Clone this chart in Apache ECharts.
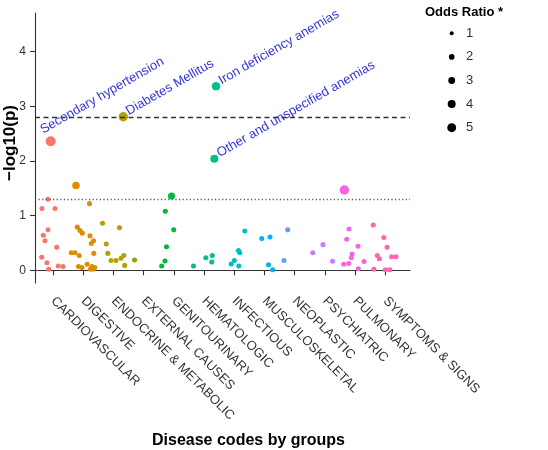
<!DOCTYPE html>
<html><head><meta charset="utf-8">
<script src="https://cdn.jsdelivr.net/npm/echarts@6/dist/echarts.min.js"></script>
<style>html,body{margin:0;padding:0;background:#fff}#c{width:548px;height:450px}</style>
</head><body><div id="c"></div>
<script>
// ---- DATA ----
const groups = ['CARDIOVASCULAR','DIGESTIVE','ENDOCRINE & METABOLIC','EXTERNAL CAUSES','GENITOURINARY','HEMATOLOGIC','INFECTIOUS','MUSCULOSKELETAL','NEOPLASTIC','PSYCHIATRIC','PULMONARY','SYMPTOMS & SIGNS'];
const groupColors = ['#F8766D','#DE8C00','#B79F00','#7CAE00','#00BA38','#00C08B','#00BFC4','#00B4F0','#619CFF','#C77CFF','#F564E3','#FF64B0'];
const groupTicks = [1,2,3,4,5,6,7,8,9,10,11,12];
const yTicks = [0,1,2,3,4];
const legendOR = [1,2,3,4,5];
const thresholdBonf = 2.8;   // dashed
const thresholdNominal = 1.301; // dotted (p = 0.05)
const OR0 = 1.6; // typical odds ratio of unlabelled points

// [position, -log10(p), odds ratio, phenotype]
const cardiovascular = [[0.834,1.30,OR0],[0.636,1.13,OR0],[1.066,1.13,OR0],[0.834,0.74,OR0],[0.679,0.64,OR0],[0.735,0.54,OR0],[1.123,0.42,OR0],[0.626,0.24,OR0],[0.80,0.14,OR0],[0.858,0.02,OR0],[1.175,0.08,OR0],[1.331,0.07,OR0],[0.924,2.36,6.2,'Secondary hypertension']];
const digestive = [[1.762,1.55,3.5],[2.209,1.22,OR0],[1.805,0.79,OR0],[1.894,0.73,OR0],[1.970,0.68,OR0],[2.225,0.63,OR0],[2.341,0.54,OR0],[2.268,0.49,OR0],[1.606,0.32,OR0],[1.728,0.32,OR0],[1.868,0.27,OR0],[2.351,0.31,OR0],[1.844,0.07,OR0],[1.960,0.05,OR0],[2.132,0.11,OR0],[2.235,0.02,OR0],[2.325,0.02,OR0],[2.381,0.05,OR0],[2.291,0.07,OR0]];
const endocrine = [[2.639,0.86,OR0],[3.202,0.78,OR0],[2.765,0.48,OR0],[2.815,0.31,OR0],[2.921,0.18,OR0],[3.086,0.18,OR0],[3.252,0.22,OR0],[3.344,0.27,OR0],[3.374,0.09,OR0],[3.328,2.81,5.6,'Diabetes Mellitus']];
const external = [[3.699,0.19,OR0]];
const genitourinary = [[4.924,1.36,3.2],[4.719,1.08,OR0],[4.997,0.74,OR0],[4.758,0.43,OR0],[4.709,0.17,OR0],[4.599,0.08,OR0]];
const hematologic = [[5.652,0.08,OR0],[6.060,0.23,OR0],[6.275,0.27,OR0],[6.258,0.15,OR0],[6.397,3.37,4.5,'Iron deficiency anemias'],[6.341,2.04,4.0,'Other and unspecified anemias']];
const infectious = [[7.351,0.72,OR0],[7.142,0.36,OR0],[7.185,0.32,OR0],[7.003,0.18,OR0],[6.901,0.115,OR0],[7.152,0.08,OR0]];
const musculoskeletal = [[7.911,0.58,OR0],[8.185,0.61,OR0],[8.136,0.10,OR0],[8.275,0.01,OR0]];
const neoplastic = [[8.772,0.74,OR0],[8.649,0.18,OR0]];
const psychiatric = [[9.599,0.32,OR0],[9.940,0.47,OR0],[10.255,0.165,OR0]];
const pulmonary = [[10.646,1.47,5.6],[10.801,0.755,OR0],[10.725,0.57,OR0],[11.099,0.44,OR0],[10.901,0.30,OR0],[10.877,0.23,OR0],[10.626,0.11,OR0],[10.791,0.125,OR0],[11.109,0.03,OR0],[11.298,0.16,OR0]];
const symptoms = [[11.603,0.83,OR0],[11.954,0.60,OR0],[12.060,0.42,OR0],[11.735,0.27,OR0],[11.805,0.21,OR0],[12.209,0.25,OR0],[12.358,0.25,OR0],[11.623,0.02,OR0],[12.000,0.01,OR0],[12.152,0.01,OR0]];
const groupData = [cardiovascular,digestive,endocrine,external,genitourinary,hematologic,infectious,musculoskeletal,neoplastic,psychiatric,pulmonary,symptoms];

// ---- STYLE ----
const sizeOf = or => 4 * Math.sqrt(or);
const labelShift = { 'Secondary hypertension': [-6, -5] };
const FONT = 'Liberation Sans, Arial, Helvetica, sans-serif';

const series = groupData.map((pts, gi) => ({
  type: 'scatter',
  name: groups[gi],
  z: 3,
  itemStyle: { color: groupColors[gi], opacity: 1 },
  symbolSize: v => sizeOf(v[2]),
  data: pts.map(p => {
    const item = { value: p.slice(0, 3) };
    if (p[3]) {
      const s = sizeOf(p[2]);
      const sh = labelShift[p[3]] || [7, 1];
      item.label = {
        show: true, formatter: p[3], position: [s / 2 + sh[0], s / 2 + sh[1]],
        rotate: 30, align: 'left', verticalAlign: 'bottom',
        color: '#3333d9', fontSize: 13, fontFamily: FONT
      };
    }
    return item;
  }),
  emphasis: { disabled: true }
}));
series.push({
  type: 'scatter', data: [], z: 1, silent: true,
  markLine: {
    silent: true, symbol: 'none', label: { show: false }, animation: false,
    data: [
      { yAxis: thresholdBonf, lineStyle: { type: [5, 3.5], color: '#333', width: 1.3 } },
      { yAxis: thresholdNominal, lineStyle: { type: [1.2, 2.4], color: '#555', width: 1.3 } }
    ]
  }
});

const legendGraphics = [{
  type: 'text', left: 425, top: 6,
  style: { text: 'Odds Ratio *', font: 'bold 13px ' + FONT, fill: '#000' }
}];
legendOR.forEach((o, i) => {
  const cy = 33.3 + 23.6 * i;
  legendGraphics.push({ type: 'circle', shape: { cx: 451.7, cy: cy, r: sizeOf(o) / 2 }, style: { fill: '#000' } });
  legendGraphics.push({ type: 'text', x: 466, y: cy, style: { text: String(o), font: '13px ' + FONT, fill: '#333', verticalAlign: 'middle' } });
});

const chart = echarts.init(document.getElementById('c'), null, { renderer: 'canvas' });
chart.setOption({
  animation: false,
  backgroundColor: '#fff',
  grid: { left: 35, right: 138, top: 13, bottom: 167, containLabel: false, outerBoundsMode: 'none' },
  xAxis: {
    type: 'value', min: 0.404, max: 12.82,
    name: 'Disease codes by groups', nameLocation: 'middle', nameGap: 150, nameMoveOverlap: false,
    nameTextStyle: { fontSize: 16, fontWeight: 'bold', color: '#000', fontFamily: FONT, padding: [0, 0, 0, 52] },
    axisLine: { show: true, lineStyle: { color: '#333', width: 1.1 } },
    axisTick: { show: true, length: 5, customValues: groupTicks, lineStyle: { color: '#333', width: 1.1 } },
    axisLabel: {
      customValues: groupTicks, rotate: -45, margin: 16,
      formatter: v => groups[Math.round(v) - 1] || '',
      color: '#333', fontSize: 13, fontFamily: FONT
    },
    splitLine: { show: false }
  },
  yAxis: {
    type: 'value', min: -0.232, max: 4.708,
    name: '\u2212log10(p)', nameLocation: 'middle', nameGap: 16, nameRotate: 90, nameMoveOverlap: false,
    nameTextStyle: { fontSize: 17, fontWeight: 'bold', color: '#000', fontFamily: FONT, padding: [0, 0, 0, 10] },
    axisLine: { show: true, lineStyle: { color: '#333', width: 1.1 } },
    axisTick: { show: true, length: 5, customValues: yTicks, lineStyle: { color: '#333', width: 1.1 } },
    axisLabel: { customValues: yTicks, margin: 9, color: '#333', fontSize: 12, fontFamily: FONT },
    splitLine: { show: false }
  },
  graphic: legendGraphics,
  series: series
});
</script></body></html>
